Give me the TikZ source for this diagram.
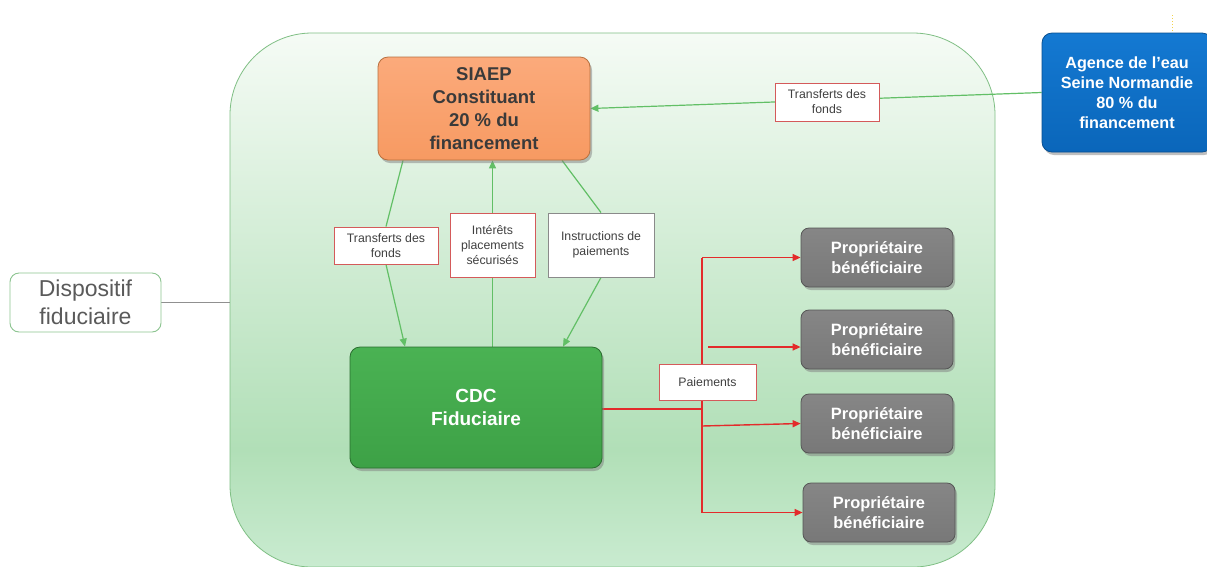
\documentclass[tikz,border=0pt]{standalone}
\usepackage{fontspec}
\setmainfont{Liberation Sans}
\usetikzlibrary{arrows.meta,shadows,calc}
\pgfdeclarelayer{bg}
\pgfdeclarelayer{edges}
\pgfsetlayers{bg,edges,main}
\definecolor{contTop}{HTML}{F5FBF5}
\definecolor{contPeak}{HTML}{B1DFB7}
\definecolor{contEnd}{HTML}{C9EBD0}
\definecolor{contLine}{HTML}{7FBF84}
\definecolor{orangeTop}{HTML}{FBAA7B}
\definecolor{orangeBot}{HTML}{F79A62}
\definecolor{orangeLine}{HTML}{B8703F}
\definecolor{cdcTop}{HTML}{4AB253}
\definecolor{cdcBot}{HTML}{3DA146}
\definecolor{cdcLine}{HTML}{2A6E2F}
\definecolor{propTop}{HTML}{868686}
\definecolor{propBot}{HTML}{787878}
\definecolor{propLine}{HTML}{555555}
\definecolor{blueTop}{HTML}{1479D2}
\definecolor{blueBot}{HTML}{0A66BA}
\definecolor{blueLine}{HTML}{084F90}
\definecolor{darktext}{HTML}{3A3A3A}
\definecolor{labtext}{HTML}{404040}
\definecolor{labred}{HTML}{D45A5A}
\definecolor{labgray}{HTML}{8A8A8A}
\definecolor{flowgreen}{HTML}{62BF66}
\definecolor{flowred}{HTML}{E32B2B}
\definecolor{dispLine}{HTML}{8CC490}
\definecolor{dispText}{HTML}{5A5A5A}
\definecolor{linkgray}{HTML}{909090}
\definecolor{dotyellow}{HTML}{F2D24A}
\pgfdeclareverticalshading{contshade}{100bp}{color(0bp)=(contEnd); color(25bp)=(contEnd);
  color(36bp)=(contPeak); color(75bp)=(contTop); color(100bp)=(contTop)}
\begin{document}
\begin{tikzpicture}[x=1pt,y=-1pt,
  bigbox/.style={rounded corners=10pt, align=center, inner sep=0pt,
     drop shadow={shadow xshift=2pt,shadow yshift=-3pt,opacity=0.5}, line width=0.8pt},
  orangebox/.style={bigbox, top color=orangeTop, bottom color=orangeBot, draw=orangeLine,
     text=darktext, font=\fontsize{18.5}{23}\selectfont\bfseries},
  greenbox/.style={bigbox, top color=cdcTop, bottom color=cdcBot, draw=cdcLine,
     text=white, font=\fontsize{19}{23}\selectfont\bfseries},
  bluebox/.style={bigbox, top color=blueTop, bottom color=blueBot, draw=blueLine,
     text=white, font=\fontsize{16.2}{20}\selectfont\bfseries},
  propbox/.style={bigbox, rounded corners=8pt, top color=propTop, bottom color=propBot, draw=propLine,
     text=white, font=\fontsize{16.4}{20}\selectfont\bfseries,
     minimum width=152pt, minimum height=59pt},
  lab/.style={draw=labred, fill=white, align=center, inner sep=0pt, line width=0.9pt,
     text=labtext, font=\fontsize{12.3}{15}\selectfont},
  labg/.style={lab, draw=labgray},
  gflow/.style={draw=flowgreen, line width=1.2pt},
  gflowarrow/.style={gflow, -{Triangle[length=8pt,width=7pt]}},
  rflow/.style={draw=flowred, line width=1.4pt},
  rflowarrow/.style={rflow, -{Triangle[length=8pt,width=7pt]}},
]
\useasboundingbox (0,0) rectangle (1207,566);
\clip (0,0) rectangle (1207,566);
\begin{pgfonlayer}{bg}
  \fill[white] (0,0) rectangle (1207,566);
  \path[shading=contshade, draw=contLine, line width=0.8pt,
        rounded corners=82pt] (230,33) rectangle (995,567);
\end{pgfonlayer}

% main boxes
\node[orangebox, minimum width=212pt, minimum height=103pt] (siaep) at (484,108.5)
  {SIAEP\\Constituant\\20 \% du\\financement};
\node[bluebox, minimum width=170pt, minimum height=119pt] (agence) at (1127,92.5)
  {Agence de l’eau\\Seine Normandie\\80 \% du\\financement};
\node[greenbox, minimum width=252pt, minimum height=121pt] (cdc) at (476,407.5)
  {CDC\\Fiduciaire};
\node[propbox] (p1) at (877,257.5) {Propriétaire\\bénéficiaire};
\node[propbox] (p2) at (877,339.5) {Propriétaire\\bénéficiaire};
\node[propbox] (p3) at (877,423.5) {Propriétaire\\bénéficiaire};
\node[propbox] (p4) at (879,512.5) {Propriétaire\\bénéficiaire};

% labels
\node[lab, minimum width=104pt, minimum height=38pt] (t1) at (827,102) {Transferts des\\fonds};
\node[lab, minimum width=104pt, minimum height=37pt] (t2) at (386,245.5) {Transferts des\\fonds};
\node[lab, minimum width=85pt, minimum height=64pt] (it) at (492.5,245) {Intérêts\\placements\\sécurisés};
\node[labg, minimum width=106pt, minimum height=64pt] (ins) at (601,245) {Instructions de\\paiements};
\node[lab, minimum width=97pt, minimum height=36pt] (pay) at (707.5,382) {Paiements};

% dispositif
\node[draw=dispLine, fill=white, rounded corners=9pt, line width=0.9pt, align=center,
      inner sep=0pt, minimum width=151pt, minimum height=59pt, text=dispText,
      font=\fontsize{23}{28}\selectfont] (disp) at (85.5,302.5) {Dispositif\\fiduciaire};
\coordinate (cw) at (230,302.5);
\coordinate (ya) at (1172,15);
\coordinate (yb) at (1172,33);

% trunk coordinates
\coordinate (trTop) at (702,257.5);
\coordinate (trMid) at (702,409);
\coordinate (trBot) at (702,512.5);
\coordinate (tr3) at (702,426);
\coordinate (b2) at (708,347);

\begin{pgfonlayer}{edges}
  \draw[linkgray, line width=1pt] (disp.east) -- (cw);
  \draw[dotyellow, line width=1pt, dotted] (ya) -- (yb);
  % green flows
  \draw[gflowarrow] (agence.west) -- (siaep.east);
  \draw[gflow] ([xshift=-81pt]siaep.south) -- (t2.north);
  \draw[gflowarrow] (t2.south) -- ([xshift=-71pt]cdc.north);
  \draw[gflow] (it.south |- cdc.north) -- (it.south);
  \draw[gflowarrow] (it.north) -- (it.north |- siaep.south);
  \draw[gflow] ([xshift=78pt]siaep.south) -- (ins.north);
  \draw[gflowarrow] (ins.south) -- ([xshift=87pt]cdc.north);
  % red flows
  \draw[rflow] (cdc.east |- trMid) -- (trMid);
  \draw[rflow] (trTop) -- (trBot);
  \draw[rflowarrow] (trTop) -- (p1.west);
  \draw[rflowarrow] (b2) -- (b2 -| p2.west);
  \draw[rflowarrow] (tr3) -- (p3.west);
  \draw[rflowarrow] (trBot) -- (p4.west);
\end{pgfonlayer}
\end{tikzpicture}
\end{document}
